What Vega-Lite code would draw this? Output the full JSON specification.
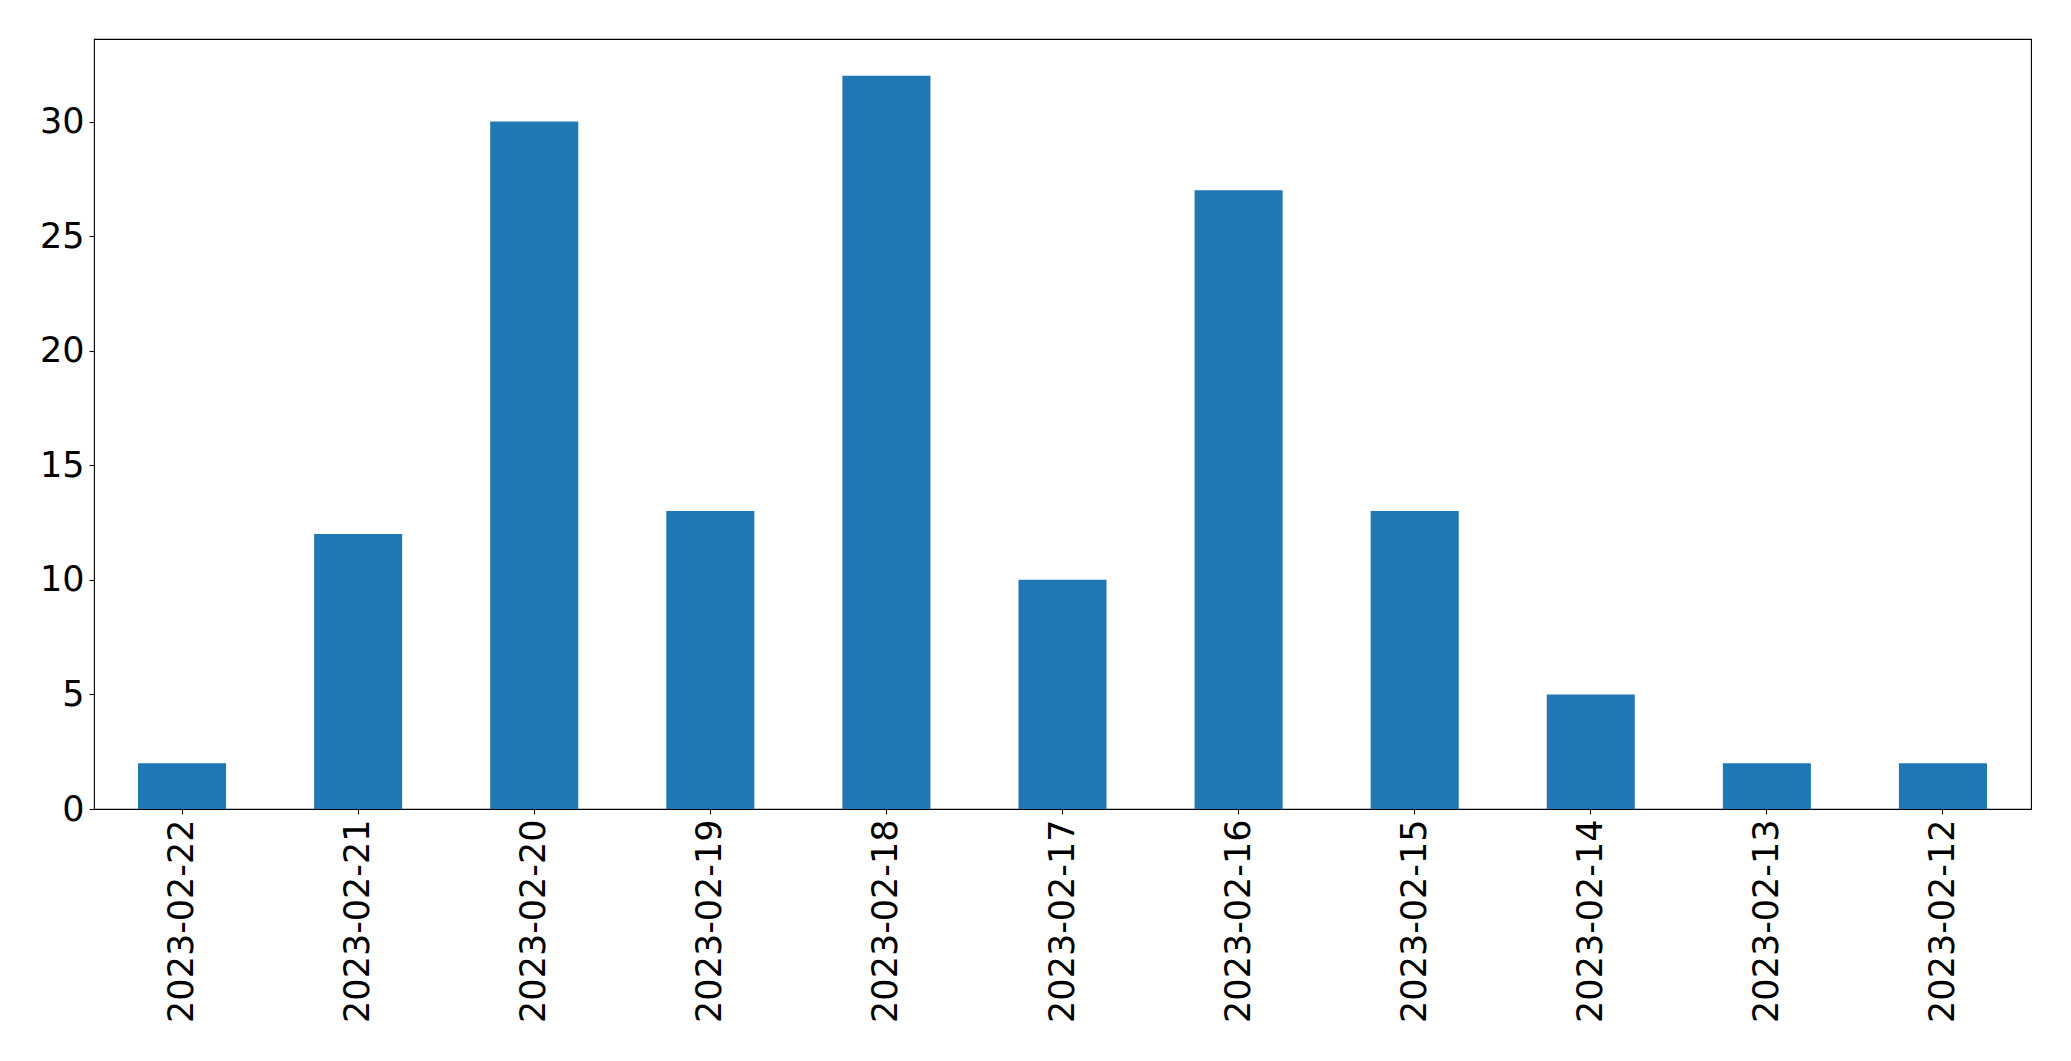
{
  "$schema": "https://vega.github.io/schema/vega-lite/v6.json",
  "width": 1937,
  "height": 770,
  "autosize": {"type": "none"},
  "padding": {"left": 94, "top": 39, "right": 40, "bottom": 252},
  "background": "white",
  "config": {
    "view": {"stroke": "black", "strokeWidth": 1.1},
    "axis": {
      "grid": false,
      "domain": false,
      "tickColor": "black",
      "tickWidth": 1.1,
      "tickSize": 5,
      "labelPadding": 5,
      "labelLimit": 0,
      "labelFont": "DejaVu Sans",
      "labelFontSize": 35,
      "labelColor": "black",
      "title": null
    }
  },
  "data": {
    "values": [
      {"date": "2023-02-22", "count": 2},
      {"date": "2023-02-21", "count": 12},
      {"date": "2023-02-20", "count": 30},
      {"date": "2023-02-19", "count": 13},
      {"date": "2023-02-18", "count": 32},
      {"date": "2023-02-17", "count": 10},
      {"date": "2023-02-16", "count": 27},
      {"date": "2023-02-15", "count": 13},
      {"date": "2023-02-14", "count": 5},
      {"date": "2023-02-13", "count": 2},
      {"date": "2023-02-12", "count": 2}
    ]
  },
  "mark": {"type": "bar", "color": "#1f77b4"},
  "encoding": {
    "x": {
      "field": "date",
      "type": "nominal",
      "sort": null,
      "scale": {"paddingInner": 0.5, "paddingOuter": 0.25},
      "axis": {"labelAngle": -90}
    },
    "y": {
      "field": "count",
      "type": "quantitative",
      "scale": {"domain": [0, 33.6], "nice": false},
      "axis": {"values": [0, 5, 10, 15, 20, 25, 30]}
    }
  }
}
